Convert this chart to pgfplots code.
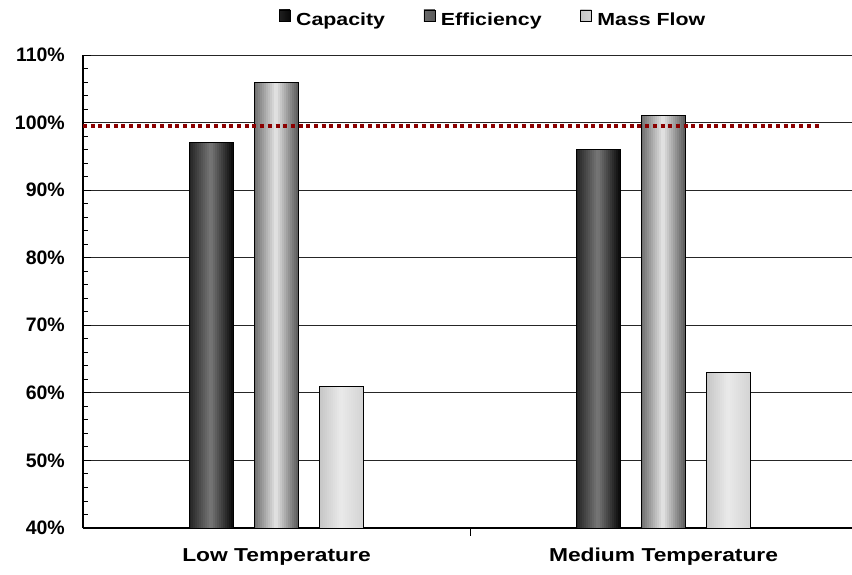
\documentclass[border=0pt]{standalone}
\usepackage{pgfplots}
\usepackage{pgfplotstable}
\pgfplotsset{compat=1.18}
\usepackage{fontspec}
\setmainfont{Liberation Sans}
\newfontfamily\widefont{Liberation Sans}[FakeStretch=1.22]
\definecolor{capL}{RGB}{32,32,32}
\definecolor{capM}{RGB}{120,120,120}
\definecolor{capR}{RGB}{8,8,8}
\definecolor{effL}{RGB}{105,105,105}
\definecolor{effM}{RGB}{230,230,230}
\definecolor{effR}{RGB}{90,90,90}
\definecolor{mfL}{RGB}{196,196,196}
\definecolor{mfM}{RGB}{234,234,234}
\definecolor{mfR}{RGB}{212,212,212}
\definecolor{refred}{RGB}{139,0,0}

\pgfplotstableread{
x cap eff mf
0 97  106 61
1 96  101 63
}\bardata

% #1 column, #2 shift of the bar centre (pt), #3 #4 #5 left/middle/right colours
\newcommand\stripbars[5]{%
  \pgfplotsforeachungrouped \i in {0,...,21}{%
    \pgfmathsetmacro\sh{#2+(\i-10.5)*2}%
    \pgfmathtruncatemacro\p{\i<11 ? round(200*(\i+0.5)/22) : round(200*((\i+0.5)/22-0.5))}%
    \ifnum\i<11 \xglobal\colorlet{c#1\i}{#4!\p!#3}\else\xglobal\colorlet{c#1\i}{#5!\p!#4}\fi
    \edef\tmp{\noexpand\addplot[ybar, bar width=2.6pt, draw=none, forget plot,
      bar shift=\sh pt, fill=c#1\i] table[x=x, y=#1] {\noexpand\bardata};}%
    \tmp
  }%
}

\pgfplotsset{
  legsq/.style n args={3}{legend image code/.code={%
    \draw[black, line width=0.6pt, left color=#1, middle color=#2, right color=#3]
      (0pt,-1.5pt) rectangle (11pt,10pt);
    \path (15pt,0pt);}},
  outline/.style={ybar, bar width=44pt, fill=none, draw=black, line width=0.8pt},
}
\begin{document}
\begin{tikzpicture}
\begin{axis}[
  scale only axis, width=769pt, height=473pt,
  xmin=-0.5, xmax=1.487, ymin=40, ymax=110,
  axis lines*=left,
  axis line style={black, line width=1.2pt},
  ytick={40,50,...,110},
  yticklabels={40\%,50\%,60\%,70\%,80\%,90\%,100\%,110\%},
  minor y tick num=4,
  ymajorgrids,
  grid style={black!85, line width=0.9pt},
  major tick length=8pt, minor tick length=5pt,
  tick style={black, line width=0.9pt},
  yticklabel style={font=\fontsize{19.5}{20}\selectfont\bfseries, inner sep=0pt, xshift=-18pt},
  xtick={0.5}, xticklabels={},
  xtick style={yshift=-8pt},
  extra x ticks={0,1},
  extra x tick labels={Low Temperature,Medium Temperature},
  extra x tick style={major tick length=0pt, grid=none,
    xticklabel style={font=\widefont\fontsize{18.7}{20}\selectfont\bfseries, inner sep=0pt, yshift=-20pt}},
  legend style={at={(axis description cs:0.533,1.076)}, anchor=center, draw=none, fill=none,
    legend columns=3, font=\widefont\fontsize{17.5}{18}\selectfont\bfseries,
    nodes={inner sep=1.5pt},
    /tikz/every even column/.append style={column sep=37pt}},
]
% shaded bodies of the bars, built from narrow strips
\stripbars{cap}{-65}{capL}{capM}{capR}
\stripbars{eff}{0}{effL}{effM}{effR}
\stripbars{mf}{65}{mfL}{mfM}{mfR}
% bar outlines (carry the legend)
\addplot[outline, bar shift=-65pt, legsq={capL}{capM}{capR}] table[x=x, y=cap] {\bardata};
\addlegendentry{Capacity}
\addplot[outline, bar shift=0pt, legsq={effL}{effM}{effR}] table[x=x, y=eff] {\bardata};
\addlegendentry{Efficiency}
\addplot[outline, bar shift=65pt, legsq={mfL}{mfM}{mfR}] table[x=x, y=mf] {\bardata};
\addlegendentry{Mass Flow}
% reference level
\addplot[forget plot, mark=none, color=refred, line width=4pt, dash pattern=on 4pt off 3.7pt]
  coordinates {(-0.5,99.55) (1.407,99.55)};
\end{axis}
\pgfresetboundingbox
\path ([shift={(-83pt,-47pt)}]current axis.south west) rectangle ([shift={(0pt,55pt)}]current axis.north east);
\end{tikzpicture}
\end{document}
